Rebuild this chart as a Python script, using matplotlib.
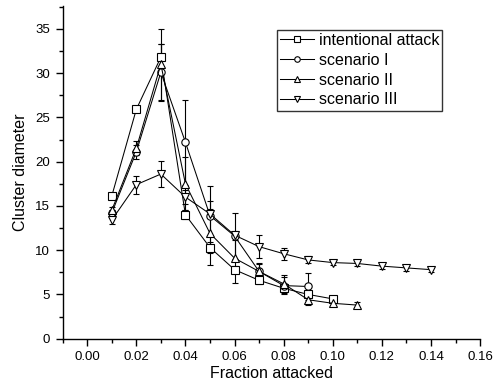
import matplotlib
matplotlib.use("Agg")
import matplotlib.pyplot as plt
from matplotlib.ticker import MultipleLocator, FormatStrFormatter

plt.rcParams['font.family'] = ['Liberation Sans', 'DejaVu Sans']

# Fraction of nodes attacked
frac_intentional = [0.01, 0.02, 0.03, 0.04, 0.05, 0.06, 0.07, 0.08, 0.09, 0.10]
frac_s1 = [0.01, 0.02, 0.03, 0.04, 0.05, 0.06, 0.07, 0.08, 0.09]
frac_s2 = [0.01, 0.02, 0.03, 0.04, 0.05, 0.06, 0.07, 0.08, 0.09, 0.10, 0.11]
frac_s3 = [0.01, 0.02, 0.03, 0.04, 0.05, 0.06, 0.07, 0.08, 0.09, 0.10,
           0.11, 0.12, 0.13, 0.14]

# Cluster diameter (mean) and error
diam_intentional = [16.1, 25.9, 31.8, 14.0, 10.3, 7.8, 6.6, 5.7, 5.0, 4.5]
err_intentional = [0.3, 0.3, 1.5, 0.5, 0.6, 0.4, 0.4, 0.4, 0.3, 0.3]

diam_s1 = [14.2, 21.1, 30.1, 22.2, 13.9, 11.6, 7.6, 6.0, 5.9]
err_s1 = [0.3, 0.8, 3.2, 4.8, 3.4, 2.6, 1.0, 1.0, 1.5]

diam_s2 = [14.5, 21.5, 31.0, 17.5, 11.9, 9.1, 7.6, 6.2, 4.4, 4.0, 3.8]
err_s2 = [0.4, 0.8, 4.0, 3.0, 3.6, 2.8, 0.8, 1.0, 0.6, 0.3, 0.3]

diam_s3 = [13.4, 17.4, 18.6, 16.0, 14.1, 11.7, 10.4, 9.6, 8.9, 8.6,
           8.5, 8.2, 8.0, 7.8]
err_s3 = [0.4, 1.0, 1.5, 0.8, 0.5, 0.5, 1.3, 0.7, 0.4, 0.3,
          0.3, 0.3, 0.3, 0.3]

series = [
    (frac_intentional, diam_intentional, err_intentional, 's', 'intentional attack'),
    (frac_s1, diam_s1, err_s1, 'o', 'scenario I'),
    (frac_s2, diam_s2, err_s2, '^', 'scenario II'),
    (frac_s3, diam_s3, err_s3, 'v', 'scenario III'),
]

fig = plt.figure(figsize=(4.97, 3.90), dpi=100)
ax = fig.add_axes([0.126, 0.1315, 0.84, 0.8535])

for x, y, e, m, lab in series:
    ax.errorbar(x, y, yerr=e, marker=m, markersize=5.3, markerfacecolor='white',
                markeredgecolor='black', markeredgewidth=0.8, color='black',
                linewidth=0.75, elinewidth=0.8, capsize=2.5, capthick=0.8,
                label=lab)

ax.set_xlim(-0.01, 0.16)
ax.set_ylim(0, 37.6)
ax.xaxis.set_major_locator(MultipleLocator(0.02))
ax.xaxis.set_minor_locator(MultipleLocator(0.01))
ax.yaxis.set_major_locator(MultipleLocator(5))
ax.yaxis.set_minor_locator(MultipleLocator(2.5))
ax.xaxis.set_major_formatter(FormatStrFormatter('%.2f'))

for side in ('top', 'right'):
    ax.spines[side].set_visible(False)
for side in ('left', 'bottom'):
    ax.spines[side].set_linewidth(1.0)

ax.tick_params(which='major', direction='out', length=5, width=1.0,
               labelsize=9.5, pad=4)
ax.tick_params(which='minor', direction='out', length=3, width=1.0)

ax.set_xlabel('Fraction attacked', fontsize=11.5, labelpad=2)
ax.set_ylabel('Cluster diameter', fontsize=11.5, labelpad=5)

handles, labels = ax.get_legend_handles_labels()
handles = [h[0] for h in handles]
leg = ax.legend(handles, labels, loc='upper left', bbox_to_anchor=(0.514, 0.928),
                borderaxespad=0, fontsize=11.5, frameon=True, fancybox=False,
                edgecolor='black', handlelength=2.1, handletextpad=0.3,
                borderpad=0.2, labelspacing=0.3, markerscale=0.75)
leg.get_frame().set_linewidth(1.0)

fig.savefig('out.png', dpi=100)
